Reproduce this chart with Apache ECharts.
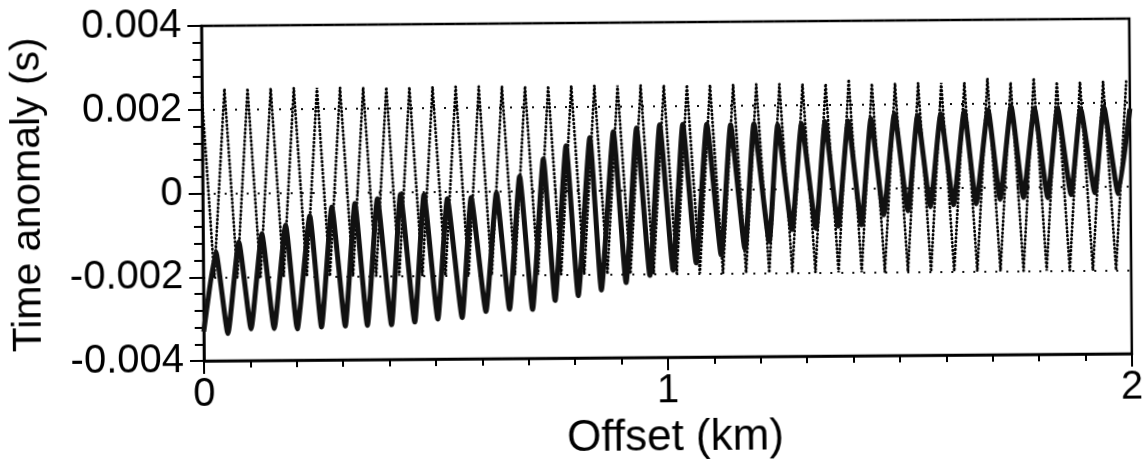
<!DOCTYPE html>
<html>
<head>
<meta charset="utf-8">
<title>Time anomaly vs offset</title>
<script src="https://cdn.jsdelivr.net/npm/echarts@6/dist/echarts.min.js"></script>
<style>
  html, body { margin: 0; padding: 0; background: #fff; }
  /* the source is a slightly tilted scan */
  #chart { width: 1145px; height: 466px; transform: rotate(-0.45deg); }
</style>
</head>
<body>
<div id="chart"></div>
<script>
// dotted curve: peaks and troughs (km, s)
const dotX = [0, 0.0237, 0.0486, 0.0735, 0.0984, 0.1234, 0.1483, 0.1732, 0.1981, 0.2231, 0.2480,
  0.2729, 0.2978, 0.3227, 0.3476, 0.3726, 0.3975, 0.4224, 0.4473, 0.4723, 0.4972,
  0.5221, 0.5470, 0.5719, 0.5968, 0.6218, 0.6467, 0.6716, 0.6965, 0.7215, 0.7464,
  0.7713, 0.7962, 0.8211, 0.8460, 0.8710, 0.8959, 0.9208, 0.9457, 0.9707, 0.9956,
  1.0205, 1.0454, 1.0703, 1.0952, 1.1202, 1.1451, 1.1700, 1.1949, 1.2199, 1.2448,
  1.2697, 1.2946, 1.3195, 1.3444, 1.3694, 1.3943, 1.4192, 1.4441, 1.4691, 1.4940,
  1.5189, 1.5438, 1.5687, 1.5936, 1.6186, 1.6435, 1.6684, 1.6933, 1.7183, 1.7432,
  1.7681, 1.7930, 1.8179, 1.8428, 1.8678, 1.8927, 1.9176, 1.9425, 1.9675, 1.9923]
const dotY = [0.0023, -0.002, 0.0025, -0.002, 0.0025, -0.002, 0.0025, -0.002, 0.0025, -0.002, 0.0025,
  -0.002, 0.0025, -0.002, 0.0025, -0.002, 0.0025, -0.002, 0.0025, -0.002, 0.0025,
  -0.002, 0.0025, -0.002, 0.0025, -0.002, 0.0025, -0.002, 0.0025, -0.002, 0.0025,
  -0.002, 0.0025, -0.002, 0.0025, -0.002, 0.0025, -0.002, 0.0025, -0.002, 0.0025,
  -0.002, 0.0025, -0.002, 0.0025, -0.002, 0.0025, -0.002, 0.0025, -0.002, 0.0025,
  -0.002, 0.0025, -0.002, 0.0025, -0.002, 0.0026, -0.002, 0.0025, -0.002, 0.0025,
  -0.002, 0.0025, -0.002, 0.0025, -0.002, 0.0025, -0.002, 0.0026, -0.002, 0.0025,
  -0.002, 0.0026, -0.002, 0.0025, -0.002, 0.0025, -0.002, 0.0025, -0.002, 0.0025]

// solid curve: turning points (km, s)
const solidX = [0, 0.0272, 0.0520, 0.0770, 0.1020, 0.1268, 0.1519, 0.1782, 0.2017, 0.2304,
  0.2539, 0.2781, 0.3052, 0.3279, 0.3529, 0.3765, 0.4049, 0.4263, 0.4550, 0.4770,
  0.5048, 0.5273, 0.5572, 0.5786, 0.6086, 0.6332, 0.6595, 0.6834, 0.7091, 0.7348,
  0.7579, 0.7840, 0.8079, 0.8353, 0.8578, 0.8862, 0.9112, 0.9362, 0.9626, 0.9861,
  1.0128, 1.0359, 1.0627, 1.0877, 1.1166, 1.1390, 1.1679, 1.1893, 1.2203, 1.2406,
  1.2695, 1.2920, 1.3213, 1.3427, 1.3690, 1.3925, 1.4193, 1.4417, 1.4674, 1.4924,
  1.5198, 1.5422, 1.5683, 1.5921, 1.6182, 1.6428, 1.6670, 1.6941, 1.7187, 1.7439,
  1.7690, 1.7940, 1.8214, 1.8439, 1.8717, 1.8937, 1.9230, 1.9437, 1.9733, 2.0000]
const solidY = [-0.00330, -0.00139, -0.00335, -0.00116, -0.00324, -0.00097, -0.00324, -0.00077, -0.00325, -0.00056,
  -0.00321, -0.00035, -0.00319, -0.00027, -0.00318, -0.00016, -0.00317, -0.00006, -0.00311, -0.00007,
  -0.00304, -0.00017, -0.00301, -0.00015, -0.00287, -0.00004, -0.00282, 0.00035, -0.00283, 0.00076,
  -0.00262, 0.00107, -0.00251, 0.00126, -0.00238, 0.00140, -0.00221, 0.00148, -0.00204, 0.00155,
  -0.00192, 0.00156, -0.00175, 0.00156, -0.00156, 0.00154, -0.00142, 0.00156, -0.00125, 0.00153,
  -0.00097, 0.00156, -0.00095, 0.00160, -0.00090, 0.00161, -0.00087, 0.00166, -0.00064, 0.00178,
  -0.00055, 0.00173, -0.00045, 0.00176, -0.00041, 0.00183, -0.00039, 0.00185, -0.00029, 0.00193,
  -0.00025, 0.00188, -0.00026, 0.00188, -0.00019, 0.00186, -0.00015, 0.00190, -0.00018, 0.00185]

const xTicks = ['0', '1', '2']
const yTicks = ['-0.004', '-0.002', '0', '0.002', '0.004']

const font = 'Liberation Sans, Arial, Helvetica, sans-serif'
const ink = '#000'

const zip = (xs, ys) => xs.map((x, i) => [x, ys[i]])

const chart = echarts.init(document.getElementById('chart'))
chart.setOption({
  animation: false,
  grid: {
    left: 203, right: 8, top: 23, bottom: 94,
    show: true, borderColor: ink, borderWidth: 2.5
  },
  xAxis: {
    type: 'value', min: 0, max: 2, interval: 1,
    name: 'Offset (km)', nameLocation: 'middle', nameGap: 50,
    nameTextStyle: { fontFamily: font, fontSize: 44, color: ink, padding: [0, 0, 0, 14] },
    axisLine: { show: true, onZero: false, lineStyle: { color: ink, width: 2.5 } },
    axisTick: { show: true, length: 13, lineStyle: { color: ink, width: 2 } },
    minorTick: { show: true, splitNumber: 10, length: 7, lineStyle: { color: ink, width: 2 } },
    axisLabel: {
      margin: 14, fontFamily: font, fontSize: 40, color: ink,
      formatter: v => xTicks[Math.round(v)]
    },
    splitLine: { show: false }
  },
  yAxis: {
    type: 'value', min: -0.004, max: 0.004, interval: 0.002,
    name: 'Time anomaly (s)', nameLocation: 'middle', nameGap: 154,
    nameTextStyle: { fontFamily: font, fontSize: 41, color: ink },
    axisLine: { show: true, onZero: false, lineStyle: { color: ink, width: 2.5 } },
    axisTick: { show: true, length: 14, lineStyle: { color: ink, width: 2 } },
    minorTick: { show: true, splitNumber: 5, length: 9, lineStyle: { color: ink, width: 2 } },
    axisLabel: {
      margin: 20, fontFamily: font, fontSize: 40, color: ink,
      formatter: v => yTicks[Math.round((v + 0.004) / 0.002)]
    },
    splitLine: { show: true, lineStyle: { color: '#111', width: 2.2, type: [2, 9] } }
  },
  series: [
    {
      name: 'dotted', type: 'line', data: zip(dotX, dotY),
      showSymbol: false, silent: true,
      lineStyle: { color: ink, width: 2.8, type: [0.5, 3.4], cap: 'round' }
    },
    {
      name: 'solid', type: 'line', data: zip(solidX, solidY),
      showSymbol: false, silent: true, smooth: 0.15,
      lineStyle: { color: '#111', width: 5, join: 'round' }
    }
  ]
})
</script>
</body>
</html>
